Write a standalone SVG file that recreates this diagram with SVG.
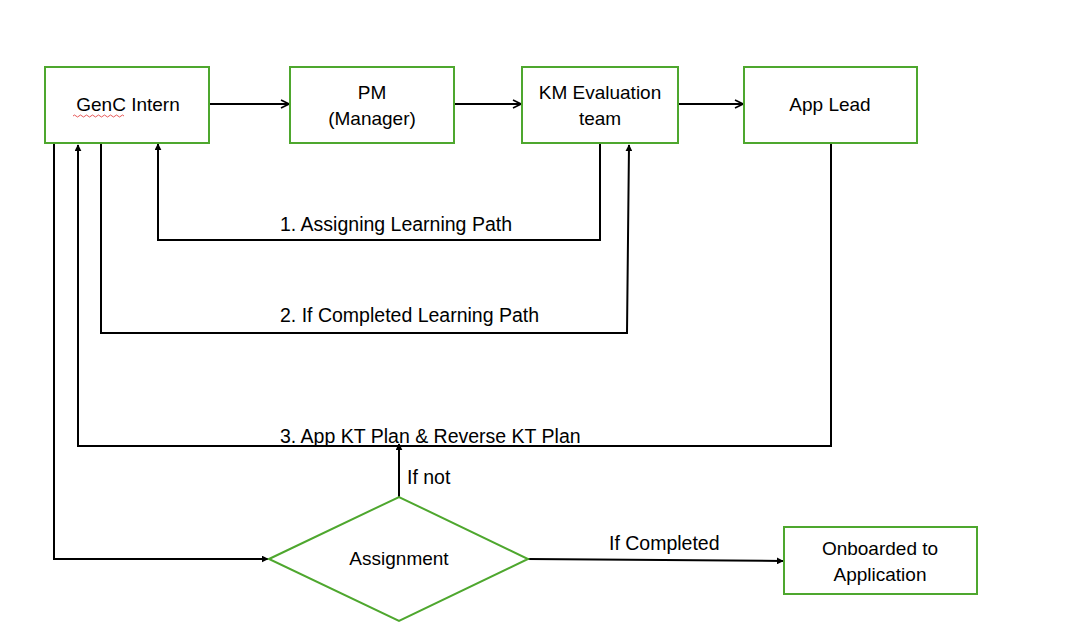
<svg xmlns="http://www.w3.org/2000/svg" width="1075" height="625" viewBox="0 0 1075 625">
<defs>
<marker id="arr" viewBox="0 0 10 10" refX="9" refY="5" markerWidth="10" markerHeight="10" markerUnits="userSpaceOnUse" orient="auto">
<path d="M1,1 L9,5 L1,9" fill="none" stroke="#000" stroke-width="1.6"/>
</marker>
<marker id="tri" viewBox="0 0 10 10" refX="9" refY="5" markerWidth="7" markerHeight="7" markerUnits="userSpaceOnUse" orient="auto">
<path d="M0,0 L10,5 L0,10 z" fill="#000"/>
</marker>
</defs>
<style>
.box{fill:#fff;stroke:#4ea72e;stroke-width:2}
.t{font-family:"Liberation Sans",Arial,sans-serif;font-size:19px;fill:#000;text-anchor:middle}
.l{font-family:"Liberation Sans",Arial,sans-serif;font-size:19.5px;fill:#000}
.c{fill:none;stroke:#000;stroke-width:2}
</style>
<rect width="1075" height="625" fill="#fff"/>
<g id="connectors">
<line class="c" x1="209" y1="104" x2="289" y2="104" marker-end="url(#arr)"/>
<line class="c" x1="454" y1="104" x2="521" y2="104" marker-end="url(#arr)"/>
<line class="c" x1="678" y1="104" x2="743" y2="104" marker-end="url(#arr)"/>
<polyline class="c" points="600,143 600,240 158,240 158,144" marker-end="url(#tri)"/>
<polyline class="c" points="101,143 101,333 627,333 629,145" marker-end="url(#tri)"/>
<polyline class="c" points="831,143 831,446 78,446 78,145" marker-end="url(#tri)"/>
<polyline class="c" points="54,143 54,559 268,559" marker-end="url(#tri)"/>
<line class="c" x1="399" y1="497" x2="399" y2="444" marker-end="url(#tri)"/>
<line class="c" x1="528" y1="559" x2="783" y2="561" marker-end="url(#tri)"/>
<text class="l" x="280" y="231">1. Assigning Learning Path</text>
<text class="l" x="280" y="322">2. If Completed Learning Path</text>
<text class="l" x="280" y="443">3. App KT Plan &amp; Reverse KT Plan</text>
<text class="l" x="407" y="484">If not</text>
<text class="l" x="609" y="550">If Completed</text>
</g>
<g id="genc">
<rect class="box" x="45" y="67" width="164" height="76"/>
<text class="t" x="128" y="111">GenC Intern</text>
<path d="M73,116 q1.5,-2 3,0 t3,0 t3,0 t3,0 t3,0 t3,0 t3,0 t3,0 t3,0 t3,0 t3,0 t3,0 t3,0 t3,0 t3,0 t3,0 t3,0" fill="none" stroke="#e03030" stroke-width="0.8"/>
</g>
<g id="pm">
<rect class="box" x="290" y="67" width="164" height="76"/>
<text class="t" x="372" y="99">PM</text>
<text class="t" x="372" y="125">(Manager)</text>
</g>
<g id="km">
<rect class="box" x="522" y="67" width="156" height="76"/>
<text class="t" x="600" y="99">KM Evaluation</text>
<text class="t" x="600" y="125">team</text>
</g>
<g id="applead">
<rect class="box" x="744" y="67" width="173" height="76"/>
<text class="t" x="830" y="111">App Lead</text>
</g>
<g id="assignment">
<polygon class="box" points="269,559 399,497 528,559 399,621"/>
<text class="t" x="399" y="565">Assignment</text>
</g>
<g id="onboarded">
<rect class="box" x="784" y="527" width="193" height="67"/>
<text class="t" x="880" y="555">Onboarded to</text>
<text class="t" x="880" y="581">Application</text>
</g>
</svg>
